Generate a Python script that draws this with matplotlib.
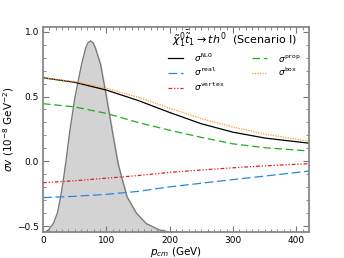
import numpy as np
import matplotlib
matplotlib.use("Agg")
import matplotlib.pyplot as plt
from matplotlib.ticker import MultipleLocator

# momentum grid (GeV) for the cross-section curves
p = [0, 50, 100, 150, 200, 250, 300, 350, 420]

sig_nlo = [0.645, 0.61, 0.55, 0.47, 0.377, 0.29, 0.225, 0.18, 0.14]
sig_box = [0.645, 0.615, 0.565, 0.495, 0.41, 0.33, 0.265, 0.21, 0.155]
sig_prop = [0.445, 0.42, 0.37, 0.30, 0.24, 0.185, 0.135, 0.105, 0.08]
sig_real = [-0.28, -0.27, -0.255, -0.232, -0.197, -0.169, -0.141, -0.114, -0.075]
sig_vertex = [-0.165, -0.15, -0.13, -0.11, -0.085, -0.067, -0.05, -0.035, -0.018]

# thermal momentum distribution (arbitrary units, drawn on the same axes)
dist_p = [0, 3, 8.4, 16.3, 22.6, 27.8, 32, 35.7, 42.5, 50.4, 60.9, 67.7, 71,
          75, 79, 82.4, 90.8, 100.3, 109.2, 118.6, 125.5, 132.8, 147.5, 163,
          184, 200, 215]
dist_v = [-0.545, -0.545, -0.53, -0.48, -0.40, -0.275, -0.146, -0.018, 0.24,
          0.495, 0.75, 0.88, 0.915, 0.93, 0.915, 0.88, 0.75, 0.495, 0.24,
          -0.018, -0.146, -0.275, -0.40, -0.48, -0.53, -0.545, -0.545]

YMIN, YMAX = -0.545, 1.04

fig = plt.figure(figsize=(3.44, 2.58), dpi=100)
ax = fig.add_axes([0.125, 0.101, 0.773, 0.796])

ax.fill_between(dist_p, YMIN, dist_v, color="#d3d3d3", zorder=1)
ax.plot(dist_p, dist_v, color="#777777", lw=0.9, zorder=2)

l1, = ax.plot(p, sig_nlo, color="black", lw=0.9, label=r"$\sigma^{\mathtt{NLO}}$")
l2, = ax.plot(p, sig_real, color="#2a85e0", lw=0.9, dashes=(7, 3),
              label=r"$\sigma^{\mathtt{real}}$")
l3, = ax.plot(p, sig_vertex, color="#e02020", lw=0.9, dashes=(3, 1.5, 1, 1.5, 1, 1.5),
              label=r"$\sigma^{\mathtt{vertex}}$")
l4, = ax.plot(p, sig_prop, color="#22aa22", lw=0.9, dashes=(6, 3),
              label=r"$\sigma^{\mathtt{prop}}$")
l5, = ax.plot(p, sig_box, color="#ff9933", lw=0.9, dashes=(1, 1),
              label=r"$\sigma^{\mathtt{box}}$")

ax.set_xlim(0, 420)
ax.set_ylim(YMIN, YMAX)
ax.xaxis.set_major_locator(MultipleLocator(100))
ax.xaxis.set_minor_locator(MultipleLocator(10))
ax.yaxis.set_major_locator(MultipleLocator(0.5))
ax.yaxis.set_minor_locator(MultipleLocator(0.1))
ax.tick_params(which="both", direction="in", top=True, right=True,
               color="#777777", labelsize=6.5, pad=3)
ax.tick_params(which="major", length=4, width=0.8)
ax.tick_params(which="minor", length=2, width=0.6)
for s in ax.spines.values():
    s.set_color("#888888")
    s.set_linewidth(1.3)

ax.set_xlabel(r"$p_{cm}$ (GeV)", fontsize=7.5, labelpad=0)
ax.set_ylabel(r"$\sigma v$ ($10^{-8}$ GeV$^{-2}$)", fontsize=7.5, labelpad=1)

leg = ax.legend(handles=[l1, l2, l3, l4, l5], ncol=2, frameon=False,
                loc="upper right", bbox_to_anchor=(1.0, 1.03),
                title=r"$\tilde{\chi}^0_1\bar{\tilde{t}}_1 \to th^0$  (Scenario I)",
                fontsize=6.5, title_fontsize=8, handlelength=1.7,
                columnspacing=3.0, labelspacing=0.25, handletextpad=1.2)

fig.savefig("out.png", dpi=100)
